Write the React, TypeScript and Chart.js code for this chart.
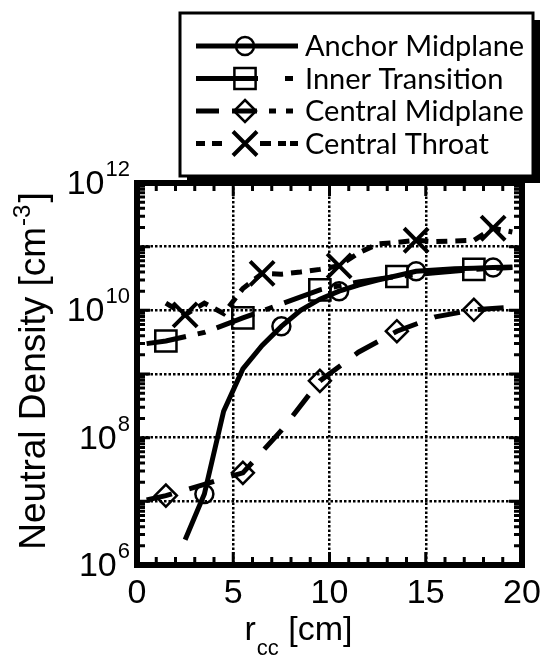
import React, { useEffect, useRef } from "react";
import { Chart, registerables } from "chart.js";

Chart.register(...registerables);

// ---------- data ----------
const seriesNames = ["Anchor Midplane", "Inner Transition", "Central Midplane", "Central Throat"];

const anchorR = [2.5, 3.5, 4.5, 5.5, 6.5, 7.5, 8.5, 9.5, 10.5, 11.5, 12.5, 13.5, 14.5, 15.5, 16.5, 17.5, 18.5, 19.5];
const anchorN = [2.5e6, 1.3e7, 2.6e8, 1.2e9, 2.8e9, 5.6e9, 1.0e10, 1.5e10, 2.0e10, 2.5e10, 3.0e10, 3.5e10, 4.1e10, 4.3e10, 4.5e10, 4.6e10, 4.7e10, 4.8e10];
const anchorMarks = [3.5, 7.5, 10.5, 14.5, 18.5];

const innerR = [0.5, 1.5, 3.5, 5.5, 7.5, 9.5, 11.5, 13.5, 15.5, 17.5, 19.5];
const innerN = [3.0e9, 3.3e9, 4.5e9, 7.6e9, 1.26e10, 2.1e10, 2.8e10, 3.4e10, 3.9e10, 4.4e10, 4.7e10];
const innerMarks = [1.5, 5.5, 9.5, 13.5, 17.5];

const centralR = [0.5, 1.5, 2.5, 3.5, 4.5, 5.5, 7.5, 9.5, 11.5, 13.5, 15.5, 17.5, 19.5];
const centralN = [1.05e7, 1.23e7, 1.5e7, 1.85e7, 2.3e7, 2.8e7, 1.3e8, 7.8e8, 2.2e9, 4.7e9, 7.9e9, 1.02e10, 1.12e10];
const centralMarks = [1.5, 5.5, 9.5, 13.5, 17.5];

const throatR = [1.5, 2.5, 3.5, 4.5, 5.5, 6.5, 7.5, 8.5, 9.5, 10.5, 11.5, 12.5, 13.5, 14.5, 15.5, 16.5, 17.5, 18.5, 19.5];
const throatN = [1.3e10, 8.5e9, 1.3e10, 8.9e9, 2.2e10, 3.8e10, 3.7e10, 4.0e10, 4.4e10, 5.0e10, 7.9e10, 1.1e11, 1.17e11, 1.26e11, 1.2e11, 1.23e11, 1.26e11, 1.95e11, 1.7e11];
const throatMarks = [2.5, 6.5, 10.5, 14.5, 18.5];

const xTickValues = [0, 5, 10, 15, 20];
const yGridExponents = [6, 7, 8, 9, 10, 11, 12];
const yLabelExponents = [6, 8, 10, 12];
const xTitle = ["r", "cc", " [cm]"];
const yTitle = ["Neutral Density [cm", "-3", "]"];

// ---------- styles ----------
const W = 545;
const H = 656;
const TICK_FONT = "'Liberation Sans', Arial, sans-serif";
const LEGEND_FONT = "Lato, 'Open Sans', sans-serif";

const lineStyles = [
  { dash: [] as number[], legendDash: [] as number[], point: "circle", radius: 9 },
  { dash: [40, 12, 8, 12], legendDash: [62, 27, 8, 40], point: "rect", radius: 15 },
  { dash: [26, 18], legendDash: [23, 13, 25, 12, 7, 10, 7, 20], point: "rectRot", radius: 11 },
  { dash: [11, 8], legendDash: [9, 7, 10, 38, 11, 7, 8, 4, 8, 20], point: "crossRot", radius: 17 },
];

const seriesData = [
  { r: anchorR, n: anchorN, marks: anchorMarks },
  { r: innerR, n: innerN, marks: innerMarks },
  { r: centralR, n: centralN, marks: centralMarks },
  { r: throatR, n: throatN, marks: throatMarks },
];

function drawMarker(ctx: CanvasRenderingContext2D, style: string, r: number, x: number, y: number) {
  ctx.beginPath();
  if (style === "circle") {
    ctx.arc(x, y, r, 0, Math.PI * 2);
  } else if (style === "rect") {
    const s = Math.SQRT1_2 * r;
    ctx.rect(x - s, y - s, 2 * s, 2 * s);
  } else if (style === "rectRot") {
    ctx.moveTo(x, y - r);
    ctx.lineTo(x + r, y);
    ctx.lineTo(x, y + r);
    ctx.lineTo(x - r, y);
    ctx.closePath();
  } else {
    const o = Math.SQRT1_2 * r;
    ctx.moveTo(x - o, y - o);
    ctx.lineTo(x + o, y + o);
    ctx.moveTo(x + o, y - o);
    ctx.lineTo(x - o, y + o);
  }
  ctx.stroke();
}

const decorPlugin = {
  id: "decor",
  afterDraw(chart: any) {
    const { ctx, chartArea: a, scales } = chart;
    const xs = scales.x;
    const ys = scales.y;
    ctx.save();
    ctx.strokeStyle = "#000";
    ctx.fillStyle = "#000";
    ctx.setLineDash([]);

    // inward ticks
    ctx.lineWidth = 3;
    ctx.beginPath();
    for (let v = 0; v <= 20; v++) {
      const px = xs.getPixelForValue(v);
      const len = v % 5 === 0 ? 13 : 8;
      ctx.moveTo(px, a.bottom);
      ctx.lineTo(px, a.bottom - len);
      ctx.moveTo(px, a.top);
      ctx.lineTo(px, a.top + len);
    }
    for (let e = 6; e < 12; e++) {
      for (let m = 1; m < 10; m++) {
        const py = ys.getPixelForValue(m * Math.pow(10, e));
        const len = m === 1 ? 13 : 8;
        ctx.moveTo(a.left, py);
        ctx.lineTo(a.left + len, py);
        ctx.moveTo(a.right, py);
        ctx.lineTo(a.right - len, py);
      }
    }
    ctx.stroke();

    // frame
    ctx.lineWidth = 6;
    ctx.strokeRect(a.left, a.top, a.right - a.left, a.bottom - a.top);

    // x tick labels
    ctx.font = `34px ${TICK_FONT}`;
    ctx.textAlign = "center";
    ctx.textBaseline = "alphabetic";
    xTickValues.forEach((v) => {
      ctx.fillText(String(v), xs.getPixelForValue(v), 603);
    });

    // y tick labels with superscripts
    yLabelExponents.forEach((e) => {
      const py = ys.getPixelForValue(Math.pow(10, e));
      ctx.font = `22px ${TICK_FONT}`;
      const expW = ctx.measureText(String(e)).width;
      const right = 130;
      ctx.textAlign = "left";
      ctx.fillText(String(e), right - expW, py - 7);
      ctx.font = `34px ${TICK_FONT}`;
      ctx.textAlign = "right";
      ctx.fillText("10", right - expW - 1, py + 11);
    });

    // x title
    ctx.textAlign = "left";
    ctx.font = `34px ${TICK_FONT}`;
    const w0 = ctx.measureText(xTitle[0]).width;
    ctx.font = `22px ${TICK_FONT}`;
    const w1 = ctx.measureText(xTitle[1]).width;
    ctx.font = `34px ${TICK_FONT}`;
    const w2 = ctx.measureText(xTitle[2]).width;
    const tx = 298 - (w0 + w1 + w2) / 2;
    ctx.fillText(xTitle[0], tx, 640);
    ctx.font = `22px ${TICK_FONT}`;
    ctx.fillText(xTitle[1], tx + w0 + 1, 655);
    ctx.font = `34px ${TICK_FONT}`;
    ctx.fillText(xTitle[2], tx + w0 + w1 + 1, 640);

    // y title (rotated)
    ctx.save();
    ctx.translate(45, 371);
    ctx.rotate(-Math.PI / 2);
    ctx.font = `37px ${TICK_FONT}`;
    const y0 = ctx.measureText(yTitle[0]).width;
    ctx.font = `24px ${TICK_FONT}`;
    const y1 = ctx.measureText(yTitle[1]).width;
    ctx.font = `37px ${TICK_FONT}`;
    const y2 = ctx.measureText(yTitle[2]).width;
    const ty = -(y0 + y1 + y2 + 3) / 2;
    ctx.fillText(yTitle[0], ty, 0);
    ctx.font = `24px ${TICK_FONT}`;
    ctx.fillText(yTitle[1], ty + y0 + 1, -15);
    ctx.font = `37px ${TICK_FONT}`;
    ctx.fillText(yTitle[2], ty + y0 + y1 + 3, 0);
    ctx.restore();

    // legend box
    const bx = 180, by = 13, bw = 353, bh = 163;
    ctx.fillStyle = "#000";
    ctx.fillRect(bx + 7, by + 7, bw, bh);
    ctx.fillStyle = "#fff";
    ctx.fillRect(bx, by, bw, bh);
    ctx.lineWidth = 3;
    ctx.strokeRect(bx, by, bw, bh);
    ctx.fillStyle = "#000";
    ctx.font = `29px ${LEGEND_FONT}`;
    ctx.textAlign = "left";
    ctx.textBaseline = "middle";
    seriesNames.forEach((name, i) => {
      const cy = 46 + i * 32.5;
      const st = lineStyles[i];
      ctx.lineWidth = 5;
      ctx.setLineDash(st.legendDash);
      ctx.beginPath();
      ctx.moveTo(196, cy);
      ctx.lineTo(298, cy);
      ctx.stroke();
      ctx.setLineDash([]);
      ctx.lineWidth = st.point === "crossRot" ? 4 : 2.5;
      drawMarker(ctx, st.point, st.radius, 245, cy);
      ctx.fillText(name, 305, cy + 1);
    });
    ctx.restore();
  },
};

export default function App() {
  const ref = useRef<HTMLCanvasElement | null>(null);

  useEffect(() => {
    document.body.style.margin = "0";
    const canvas = ref.current;
    if (!canvas) return;
    const datasets = seriesData.map((s, i) => {
      const st = lineStyles[i];
      return {
        label: seriesNames[i],
        data: s.r.map((r, k) => ({ x: r, y: s.n[k] })),
        borderColor: "#000",
        borderWidth: 5,
        borderDash: st.dash,
        tension: 0,
        fill: false,
        pointStyle: st.point,
        pointRadius: (c: any) => (c.raw && s.marks.includes(c.raw.x) ? st.radius : 0),
        pointBorderColor: "#000",
        pointBackgroundColor: "rgba(0,0,0,0)",
        pointBorderWidth: st.point === "crossRot" ? 4 : 2.5,
      };
    });

    const chart = new Chart(canvas, {
      type: "line",
      data: { datasets } as any,
      options: {
        responsive: false,
        animation: false,
        devicePixelRatio: 1,
        layout: { padding: { top: 183, right: 23, bottom: 91, left: 137 } },
        plugins: { legend: { display: false }, tooltip: { enabled: false } },
        scales: {
          x: {
            type: "linear",
            min: 0,
            max: 20,
            ticks: { display: false, stepSize: 5 },
            grid: { color: "#000", lineWidth: 2.5, drawTicks: false },
            border: { display: false, dash: [2.5, 2] },
          },
          y: {
            type: "logarithmic",
            min: 1e6,
            max: 1e12,
            ticks: { display: false },
            afterBuildTicks: (s: any) => {
              s.ticks = yGridExponents.map((e) => ({ value: Math.pow(10, e) }));
            },
            grid: { color: "#000", lineWidth: 2.5, drawTicks: false },
            border: { display: false, dash: [2.5, 2] },
          },
        },
      } as any,
      plugins: [decorPlugin],
    });
    return () => chart.destroy();
  }, []);

  return (
    <div style={{ width: W, height: H, background: "#fff" }}>
      <canvas ref={ref} width={W} height={H} style={{ display: "block" }} />
    </div>
  );
}
